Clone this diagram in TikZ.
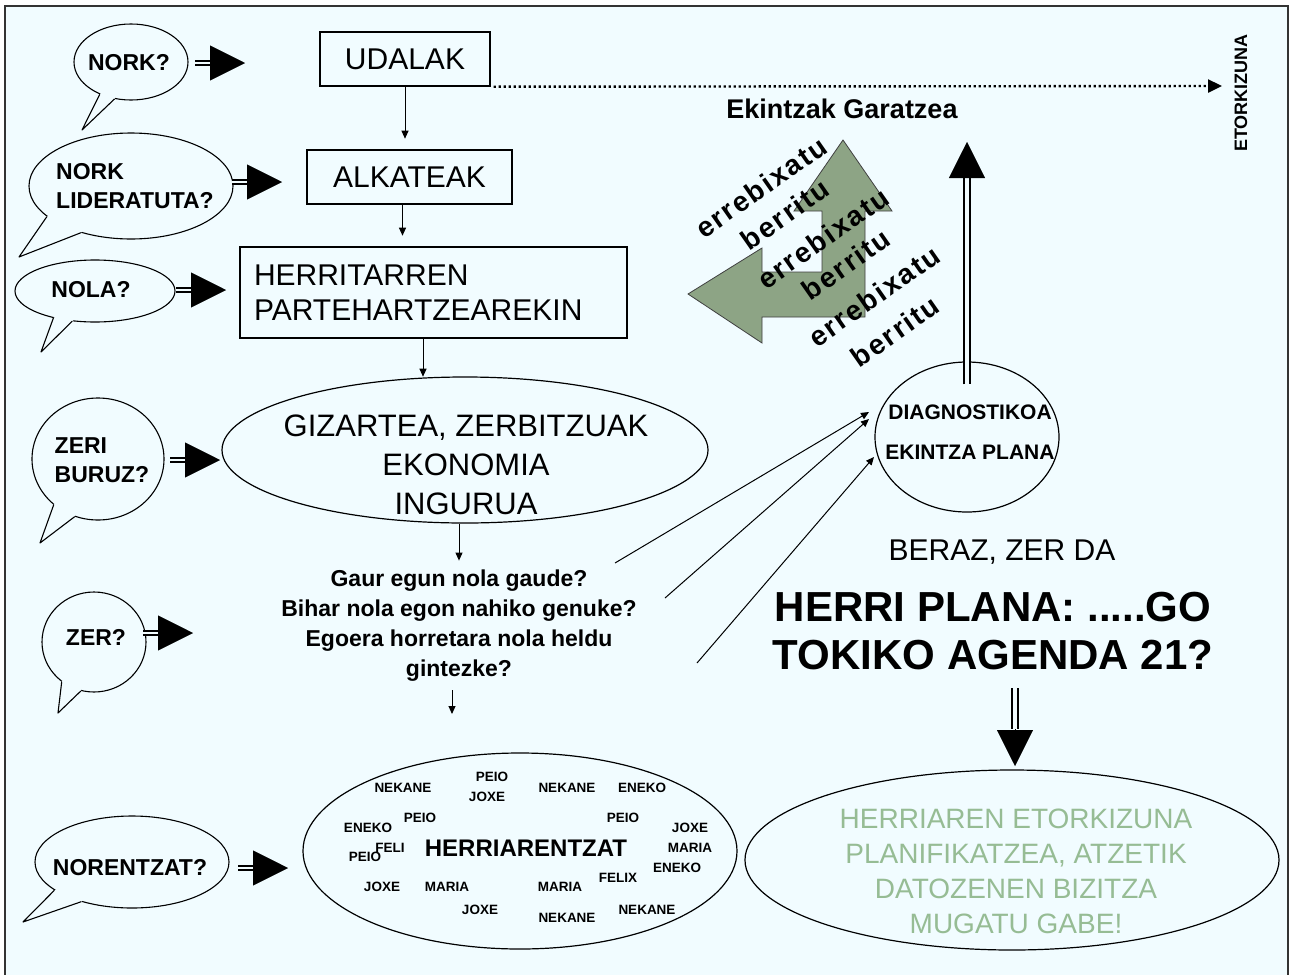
\documentclass[tikz,border=0pt]{standalone}
\usepackage{fontspec}
\setmainfont{Liberation Sans}
\usetikzlibrary{shapes.geometric,arrows.meta}
\definecolor{bg}{RGB}{241,252,255}
\definecolor{arrowgreen}{RGB}{141,164,133}
\definecolor{textgreen}{RGB}{150,188,148}
\tikzset{
  box/.style={draw, line width=1.4pt, fill=bg, inner sep=0pt},
  oval/.style={ellipse, draw, line width=1.2pt, fill=bg, inner sep=0pt},
  bubble/.style={ellipse, draw, line width=1.1pt, fill=bg, inner sep=0pt},
  bubtext/.style={font=\fontsize{23}{29}\selectfont\bfseries, align=left, inner sep=0pt},
  nametext/.style={font=\fontsize{13.5}{15}\selectfont\bfseries, inner sep=0pt},
  rotword/.style={rotate=35, inner sep=0pt, font=\fontsize{28}{30}\selectfont\bfseries\addfontfeature{LetterSpace=7}},
  thinarrow/.style={line width=1pt, -{Triangle[length=8pt,width=7pt]}},
  dotarrow/.style={line width=2.4pt, dash pattern=on 2.2pt off 2.8pt, -{Triangle[length=14pt,width=13pt]}},
  dblline/.style={line width=1.6pt, double=bg, double distance=2.2pt},
  dblline2/.style={line width=2.4pt, double=bg, double distance=3.2pt},
  bigtip/.style={line width=0.4pt, -{Triangle[length=35pt,width=35pt]}},
  bigtipv/.style={line width=0.4pt, -{Triangle[length=36pt,width=36pt]}},
}
\newcommand\bubtail[4]{%
  \fill[bg] (#1.#2) -- #4 -- (#1.#3) -- (#1.center) -- cycle;
  \draw[line width=1.1pt, line join=round] (#1.#2) -- #4 -- (#1.#3);}
\newcommand\qarrow[1]{%
  \draw[dblline] #1 -- ++(15,0) coordinate (qa);
  \draw[bigtip] (qa) -- ++(35,0);}
\begin{document}
\begin{tikzpicture}[x=1pt,y=-1pt]
\useasboundingbox (0,0) rectangle (1294,975);
\fill[white] (0,0) rectangle (1294,975);
\filldraw[fill=bg, draw=black!80, line width=1.3pt] (5,6) rectangle (1288,985);

% ---- left column boxes ----
\node[box, minimum width=170pt, minimum height=54pt, font=\fontsize{30}{34}\selectfont] (udalak) at (405,59) {UDALAK};
\node[box, minimum width=205pt, minimum height=54pt, font=\fontsize{30}{34}\selectfont] (alkateak) at (409.5,177) {ALKATEAK};
\node[box, minimum width=387pt, minimum height=91pt, text width=359pt, align=left, font=\fontsize{30}{35}\selectfont] (herri) at (433.5,292.5) {HERRITARREN\\PARTEHARTZEAREKIN};
\node[oval, minimum width=486pt, minimum height=146pt] (gizartea) at (465,450) {};
\node[font=\fontsize{31}{39}\selectfont, align=center, inner sep=0pt] (gizt) at (466,465) {GIZARTEA, ZERBITZUAK\\EKONOMIA\\INGURUA};
\node[font=\fontsize{23}{30}\selectfont\bfseries, align=center, inner sep=0pt] (quest) at (459,626) {Gaur egun nola gaude?\\Bihar nola egon nahiko genuke?\\Egoera horretara nola heldu\\gintezke?};

\draw[thinarrow] (udalak.south) -- ++(0,52);
\draw[thinarrow] ([xshift=-7pt]alkateak.south) -- ++(0,31);
\draw[thinarrow] ([xshift=-10.5pt]herri.south) -- ++(0,38);
\draw[thinarrow] ([xshift=-6pt]gizartea.south) -- ++(0,37);
\coordinate (qdown) at (452,690);
\draw[thinarrow] (qdown) -- ++(0,24);

% ---- names ellipse ----
\node[oval, minimum width=434pt, minimum height=196pt] (names) at (520,851) {};
\foreach \x/\y/\w [count=\i] in {403/788/NEKANE, 492/777/PEIO, 487/797/JOXE, 567/788/NEKANE, 642/788/ENEKO, 368/828/ENEKO, 420/818/PEIO, 623/818/PEIO, 690/828/JOXE, 390/848/FELI, 365/857/PEIO, 690/848/MARIA, 677/868/ENEKO, 618/878/FELIX, 382/887/JOXE, 447/887/MARIA, 560/887/MARIA, 480/910/JOXE, 567/918/NEKANE, 647/910/NEKANE}
  \node[nametext] (nm\i) at (\x,\y) {\w};
\node[font=\fontsize{24}{28}\selectfont\bfseries, inner sep=0pt] (herriarentzat) at (526,848) {HERRIARENTZAT};

% ---- speech bubbles ----
\node[bubble, minimum width=114pt, minimum height=76pt] (nork) at (131,62) {};
\node[bubble, minimum width=204pt, minimum height=106pt] (norklid) at (131,186) {};
\node[bubble, minimum width=160pt, minimum height=62pt] (nola) at (95,291) {};
\node[bubble, minimum width=132pt, minimum height=122pt] (zeri) at (98,459) {};
\node[bubble, minimum width=104pt, minimum height=100pt] (zer) at (94,642) {};
\node[bubble, minimum width=194pt, minimum height=92pt] (norentzat) at (132,862) {};
\bubtail{nork}{226}{246}{(82,130)}
\bubtail{norklid}{200}{223}{(19,257)}
\bubtail{nola}{213}{233}{(41,352)}
\bubtail{zeri}{226}{248}{(40,543)}
\bubtail{zer}{231}{255}{(58,713)}
\bubtail{norentzat}{200}{218}{(23,922)}
\node[bubtext] (t1) at (129,63) {NORK?};
\node[bubtext] (t2) at (135,186) {NORK\\LIDERATUTA?};
\node[bubtext] (t3) at (91,290) {NOLA?};
\node[bubtext] (t4) at (102,460) {ZERI\\BURUZ?};
\node[bubtext] (t5) at (96,637) {ZER?};
\node[bubtext] (t6) at (130,868) {NORENTZAT?};
\qarrow{(195,63)}
\qarrow{(232,182)}
\qarrow{(176,290)}
\qarrow{(170,460)}
\qarrow{(143,633)}
\qarrow{(238,868)}

% ---- top right ----
\coordinate (future) at (1222,86);
\draw[dotarrow] ([xshift=3pt]udalak.south east) -- (future);
\node[rotate=90, font=\fontsize{18}{20}\selectfont\bfseries, inner sep=0pt] (etorkizuna) at (1241,93) {ETORKIZUNA};
\node[font=\fontsize{27}{30}\selectfont\bfseries, inner sep=0pt] (ekintzak) at (842,109) {Ekintzak Garatzea};

% green bent arrow
\filldraw[fill=arrowgreen, draw=black!75, line width=0.8pt] (688,294) -- (762,248) -- (762,272) -- (822,272) -- (822,211) -- (794,211) -- (843,140) -- (892,211) -- (865,211) -- (865,317) -- (762,317) -- (762,343) -- cycle;
\foreach \x/\y/\w [count=\i] in {761/187/errebixatu, 785/214/berritu, 823/238/errebixatu, 846/264/berritu, 874/296/errebixatu, 895/331/berritu}
  \node[rotword] (w\i) at (\x,\y) {\w};

% diagnostikoa
\node[oval, minimum width=184pt, minimum height=150pt] (diag) at (967,437) {};
\node[font=\fontsize{21}{40}\selectfont\bfseries, align=center, inner sep=0pt] (diagt) at (970,432) {DIAGNOSTIKOA\\EKINTZA PLANA};
\coordinate (upbase) at (967,176);
\draw[dblline2] ([yshift=-23pt]diag.north) -- (upbase);
\draw[bigtipv] (upbase) -- ++(0,-34);

\coordinate (q1) at (615,563);
\coordinate (q2) at (665,598);
\coordinate (q3) at (697,663);
\coordinate (d1) at (869,412);
\coordinate (d2) at (869,419);
\coordinate (d3) at (874,457);
\draw[thinarrow] (q1) -- (d1);
\draw[thinarrow] (q2) -- (d2);
\draw[thinarrow] (q3) -- (d3);

% ---- bottom right ----
\node[font=\fontsize{30}{32}\selectfont, inner sep=0pt] (beraz) at (1002,552) {BERAZ, ZER DA};
\node[font=\fontsize{42}{48}\selectfont\bfseries, align=center, inner sep=0pt] (herriplana) at (993,631) {HERRI PLANA: .....GO\\TOKIKO AGENDA 21?};
\coordinate (dn) at (1015,688);
\draw[dblline2] (dn) -- ++(0,41) coordinate (dnb);
\draw[bigtipv] (dnb) -- ++(0,37);
\node[oval, minimum width=534pt, minimum height=180pt] (goal) at (1012,860) {};
\node[font=\fontsize{28}{35}\selectfont, text=textgreen, align=center, inner sep=0pt] (goalt) at (1016,871) {HERRIAREN ETORKIZUNA\\PLANIFIKATZEA, ATZETIK\\DATOZENEN BIZITZA\\MUGATU GABE!};
\end{tikzpicture}
\end{document}
